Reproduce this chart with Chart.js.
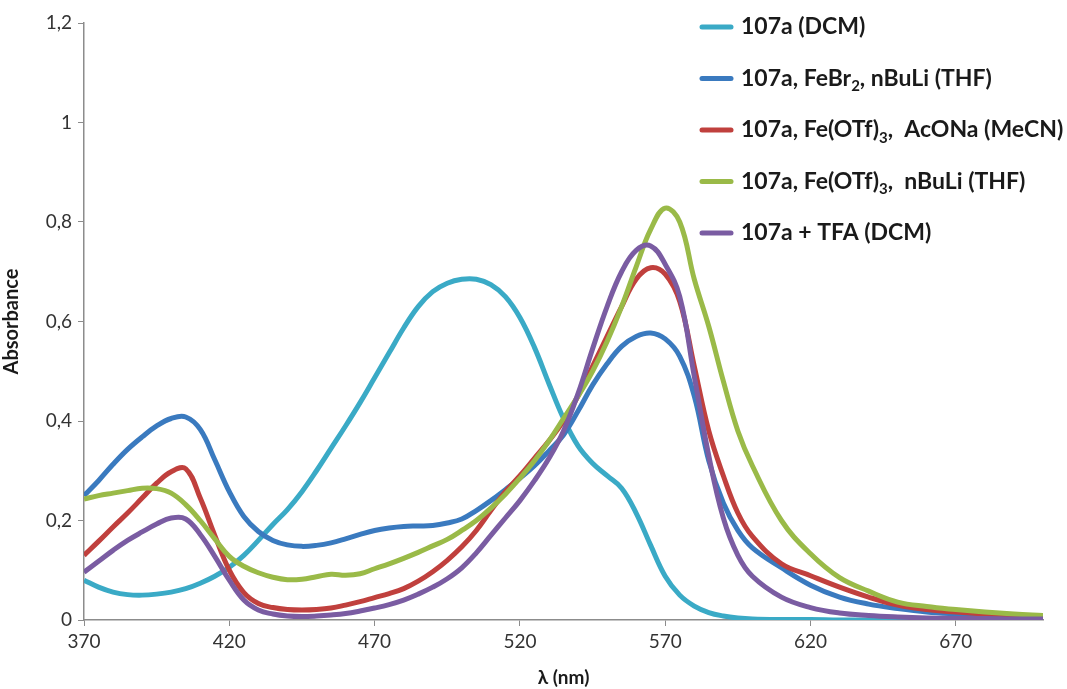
<!DOCTYPE html>
<html>
<head>
<meta charset="utf-8">
<script src="https://cdn.jsdelivr.net/npm/chart.js@4.4.0/dist/chart.umd.min.js"></script>
<style>
  html, body { margin: 0; padding: 0; background: #fff; }
  #wrap { width: 1067px; height: 689px; position: relative; }
</style>
</head>
<body>
<div id="wrap"><canvas id="spectra"></canvas></div>
<script>
// wavelength grid (nm)
const wavelengths = [370, 375, 380, 385, 390, 395, 400, 405, 410, 415, 420, 425, 430, 435, 440, 445,
  450, 455, 460, 465, 470, 475, 480, 485, 490, 495, 500, 505, 510, 515, 520, 525, 530, 535, 540,
  545, 550, 555, 560, 565, 570, 575, 580, 585, 590, 595, 600, 610, 620, 630, 640, 650, 660, 670,
  680, 690, 700];

const seriesNames = ["107a (DCM)", "107a, FeBr₂, nBuLi (THF)", "107a, Fe(OTf)₃,  AcONa (MeCN)",
  "107a, Fe(OTf)₃,  nBuLi (THF)", "107a + TFA (DCM)"];

const dcm = [0.080, 0.066, 0.056, 0.051, 0.050, 0.052, 0.056, 0.063, 0.074, 0.088, 0.106, 0.130,
  0.160, 0.192, 0.222, 0.258, 0.300, 0.345, 0.390, 0.437, 0.487, 0.537, 0.587, 0.630, 0.660, 0.677,
  0.685, 0.685, 0.674, 0.650, 0.608, 0.548, 0.475, 0.405, 0.350, 0.315, 0.290, 0.265, 0.215, 0.150,
  0.088, 0.050, 0.028, 0.015, 0.008, 0.004, 0.002, 0.001, 0.001, 0, 0, 0, 0, 0, 0, 0, 0];

const febr2 = [0.250, 0.280, 0.313, 0.343, 0.368, 0.390, 0.405, 0.408, 0.383, 0.322, 0.258, 0.208,
  0.178, 0.160, 0.151, 0.148, 0.150, 0.155, 0.163, 0.172, 0.180, 0.185, 0.188, 0.189, 0.190, 0.195,
  0.203, 0.220, 0.240, 0.262, 0.285, 0.310, 0.340, 0.372, 0.420, 0.472, 0.515, 0.550, 0.570, 0.577,
  0.565, 0.530, 0.450, 0.320, 0.235, 0.180, 0.145, 0.105, 0.070, 0.046, 0.032, 0.023, 0.016, 0.012,
  0.009, 0.007, 0.005];

const otfAcona = [0.130, 0.158, 0.187, 0.215, 0.245, 0.275, 0.298, 0.304, 0.245, 0.170, 0.100, 0.055,
  0.033, 0.025, 0.021, 0.020, 0.021, 0.024, 0.030, 0.037, 0.045, 0.053, 0.063, 0.078, 0.097, 0.120,
  0.147, 0.180, 0.220, 0.258, 0.290, 0.325, 0.360, 0.400, 0.450, 0.510, 0.570, 0.630, 0.685, 0.708,
  0.695, 0.640, 0.510, 0.380, 0.290, 0.215, 0.168, 0.113, 0.089, 0.066, 0.046, 0.030, 0.021, 0.016,
  0.012, 0.009, 0.007];

const otfBuli = [0.243, 0.250, 0.255, 0.260, 0.265, 0.264, 0.255, 0.232, 0.200, 0.163, 0.128, 0.108,
  0.095, 0.086, 0.081, 0.082, 0.087, 0.092, 0.090, 0.093, 0.103, 0.113, 0.124, 0.136, 0.149, 0.162,
  0.180, 0.200, 0.225, 0.253, 0.285, 0.320, 0.360, 0.405, 0.450, 0.500, 0.560, 0.630, 0.710, 0.785,
  0.828, 0.800, 0.685, 0.590, 0.480, 0.380, 0.310, 0.200, 0.133, 0.085, 0.058, 0.036, 0.027, 0.021,
  0.016, 0.012, 0.009];

const tfa = [0.096, 0.118, 0.140, 0.160, 0.177, 0.193, 0.205, 0.203, 0.172, 0.128, 0.080, 0.040,
  0.020, 0.012, 0.008, 0.007, 0.008, 0.010, 0.013, 0.018, 0.024, 0.031, 0.040, 0.052, 0.066, 0.083,
  0.105, 0.135, 0.170, 0.205, 0.240, 0.280, 0.325, 0.380, 0.455, 0.545, 0.630, 0.700, 0.743, 0.752,
  0.715, 0.650, 0.490, 0.330, 0.205, 0.130, 0.088, 0.046, 0.025, 0.014, 0.009, 0.006, 0.004, 0.003,
  0.003, 0.002, 0.002];

const xTicks = [370, 420, 470, 520, 570, 620, 670];
const yTicks = [0, 0.2, 0.4, 0.6, 0.8, 1, 1.2];

const colors = ["#3aaac6", "#3a7abf", "#c0403d", "#9aba48", "#7a5ca2"];
const allSeries = [dcm, febr2, otfAcona, otfBuli, tfa];

function toPoints(values) {
  return wavelengths.map((w, i) => ({ x: w, y: values[i] }));
}

// legend drawn by hand so the subscripts come out right
const legendBox = {
  id: "legendBox",
  afterDatasetsDraw(chart) {
    const ctx = chart.ctx;
    ctx.save();
    chart.data.datasets.forEach((ds, i) => {
      const y = 27 + i * 51.5;
      ctx.strokeStyle = ds.borderColor;
      ctx.lineWidth = 5;
      ctx.lineCap = "round";
      ctx.beginPath();
      ctx.moveTo(702, y);
      ctx.lineTo(731, y);
      ctx.stroke();

      let x = 741;
      ctx.fillStyle = "#1a1a1a";
      ctx.textBaseline = "middle";
      ds.label.split(/([₂₃])/).forEach((part) => {
        if (!part) return;
        if (part === "₂" || part === "₃") {
          ctx.font = "bold 15px Lato";
          const s = part === "₂" ? "2" : "3";
          ctx.fillText(s, x, y + 8);
          x += ctx.measureText(s).width;
        } else {
          ctx.font = "bold 23px Lato";
          ctx.fillText(part, x, y);
          x += ctx.measureText(part).width;
        }
      });
    });
    ctx.restore();
  },
};

const ctx = document.getElementById("spectra").getContext("2d");

new Chart(ctx, {
  type: "line",
  data: {
    datasets: allSeries.map((vals, i) => ({
      label: seriesNames[i],
      data: toPoints(vals),
      borderColor: colors[i],
      backgroundColor: colors[i],
      borderWidth: 5,
      pointRadius: 0,
      tension: 0.4,
      order: allSeries.length - i,
    })),
  },
  options: {
    responsive: true,
    maintainAspectRatio: false,
    animation: false,
    layout: { padding: { top: 23, right: 24, left: 0, bottom: 0 } },
    plugins: {
      legend: { display: false },
      tooltip: { enabled: false },
    },
    scales: {
      x: {
        type: "linear",
        min: 370,
        max: 700,
        afterBuildTicks: (scale) => {
          scale.ticks = xTicks.map((v) => ({ value: v }));
        },
        afterFit: (scale) => {
          scale.height = 69;
        },
        grid: { drawOnChartArea: false, drawTicks: true, tickLength: 6, color: "#8c8c8c" },
        border: { color: "#8c8c8c", width: 1.5 },
        ticks: { color: "#333", font: { family: "Lato", size: 19 }, padding: 4, maxRotation: 0 },
        title: {
          display: true,
          text: "λ (nm)",
          color: "#1a1a1a",
          font: { family: "Lato", size: 19, weight: "bold" },
          padding: { top: 0, bottom: 0 },
        },
      },
      y: {
        min: 0,
        max: 1.2,
        afterBuildTicks: (scale) => {
          scale.ticks = yTicks.map((v) => ({ value: v }));
        },
        afterFit: (scale) => {
          scale.width = 84;
        },
        grid: { drawOnChartArea: false, drawTicks: true, tickLength: 6, color: "#8c8c8c" },
        border: { color: "#8c8c8c", width: 1.5 },
        ticks: {
          color: "#333",
          font: { family: "Lato", size: 19 },
          padding: 6,
          callback: (v) => String(Math.round(v * 10) / 10).replace(".", ","),
        },
        title: {
          display: true,
          text: "Absorbance",
          color: "#1a1a1a",
          font: { family: "Lato", size: 20, weight: "bold" },
          padding: { top: 0, bottom: 0 },
        },
      },
    },
  },
  plugins: [legendBox],
});
</script>
</body>
</html>
